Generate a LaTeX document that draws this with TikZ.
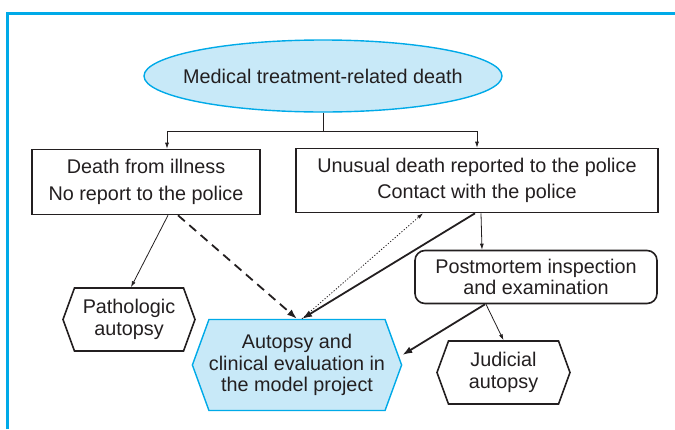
\documentclass[tikz,border=0pt]{standalone}
\usepackage{fontspec}
\setmainfont{Liberation Sans}
\usetikzlibrary{arrows.meta, shapes, shapes.symbols, positioning}
\definecolor{framecyan}{RGB}{0,170,232}
\definecolor{paleblue}{RGB}{200,233,248}
\definecolor{inkgray}{RGB}{35,31,32}
\tikzset{
    box/.style={draw=inkgray, line width=1.6pt, fill=white, inner sep=0pt, align=center, font=\fontsize{19.8}{26.5}\selectfont},
    tightbox/.style={box, font=\fontsize{19.8}{21.5}\selectfont},
    hexbox/.style={tightbox, shape=signal, signal to=east and west, signal pointer angle=140},
    thinarr/.style={-{Latex[length=6pt,width=4pt]}, line width=0.8pt, inkgray},
    thickarr/.style={-{Latex[length=10pt,width=7pt]}, line width=1.8pt, inkgray}
}
\begin{document}
\begin{tikzpicture}[x=1pt, y=-1pt, font=\fontsize{19.8}{24}\selectfont, text=inkgray]
    \useasboundingbox (0,0) rectangle (675,429);
    % open frame
    \draw[framecyan, line width=2.6pt] (7.5,429) -- (7.5,13.5) -- (675,13.5);
    % nodes
    \node[ellipse, draw=framecyan, line width=1.4pt, fill=paleblue, inner xsep=-14pt, inner ysep=0pt, minimum width=358pt, minimum height=72pt] (med) at (323,76) {Medical treatment-related death};
    \node[box, minimum width=228pt, minimum height=65pt] (ill) at (146,182) {Death from illness\\No report to the police};
    \node[box, minimum width=362pt, minimum height=64pt] (unus) at (477,180.5) {Unusual death reported to the police\\Contact with the police};
    \node[tightbox, rounded corners=10pt, minimum width=242pt, minimum height=53pt] (post) at (536,277) {Postmortem inspection\\and examination};
    \node[hexbox, minimum width=132pt, minimum height=63pt] (patho) at (129,319.5) {Pathologic\\autopsy};
    \node[hexbox, draw=framecyan, line width=1.4pt, fill=paleblue, minimum width=205pt, minimum height=91pt] (model) at (297,365) {Autopsy and\\clinical evaluation in\\the model project};
    \node[hexbox, minimum width=133pt, minimum height=63pt] (judi) at (503.5,372.5) {Judicial\\autopsy};
    % fork
    \draw[line width=0.8pt, inkgray] (med.south) -- ++(0,19) coordinate (fork);
    \draw[thinarr] (fork) -| ([xshift=21pt]ill.north);
    \draw[thinarr] (fork) -| (unus.north);
    % connectors
    \draw[thinarr] ([xshift=22pt]ill.south) -- ([xshift=2pt]patho.north);
    \draw[thickarr, dashed, dash pattern=on 9pt off 6pt] ([xshift=32pt]ill.south) -- (model.north);
    \draw[thinarr, dash pattern=on 1.2pt off 1.8pt] ([xshift=5pt]model.north) -- ([xshift=-54pt]unus.south);
    \draw[thickarr] ([xshift=-2pt]unus.south) -- ([xshift=5pt]model.north);
    \draw[thinarr] ([xshift=4pt]unus.south) -- ([xshift=-54pt]post.north);
    \draw[thickarr] ([xshift=-51pt]post.south) -- ([yshift=10pt]model.east);
    \draw[thinarr] ([xshift=-50pt]post.south) -- (judi.north);
\end{tikzpicture}
\end{document}
